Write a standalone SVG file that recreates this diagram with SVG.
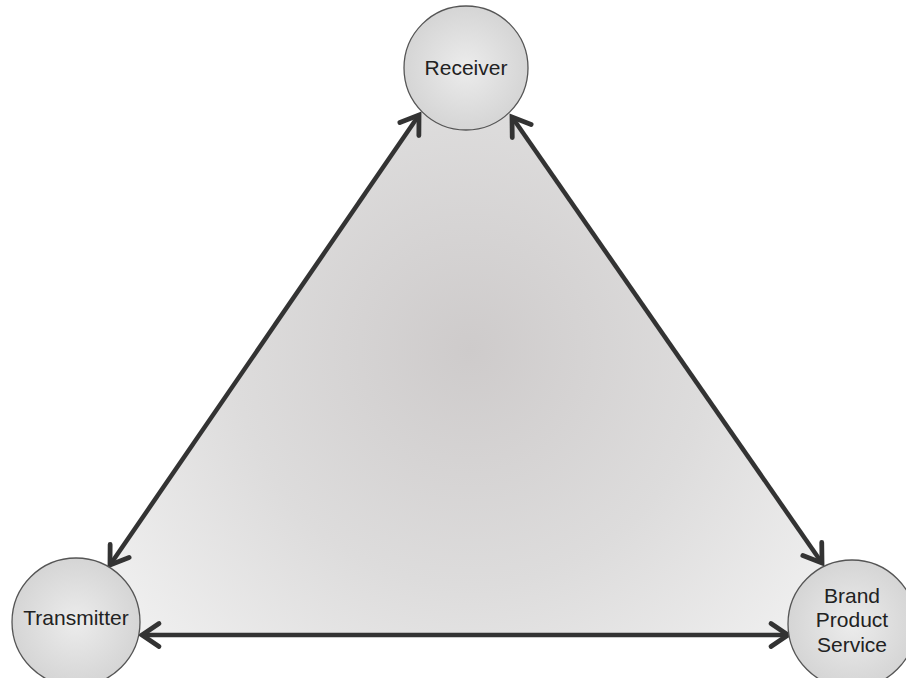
<svg xmlns="http://www.w3.org/2000/svg" width="906" height="678" viewBox="0 0 906 678">
<defs>
<style>
.node circle{fill:url(#cg);stroke:#555;stroke-width:1.3}
.node text{font-family:"Liberation Sans",Arial,sans-serif;font-size:21px;fill:#222;text-anchor:middle}
.conn{stroke:#333;stroke-width:4.5;fill:none;marker-start:url(#ah);marker-end:url(#ah)}
</style>
<radialGradient id="tg" gradientUnits="userSpaceOnUse" cx="470" cy="350" r="470">
<stop offset="0" stop-color="#cecbcb"/>
<stop offset="0.5" stop-color="#dddcdc"/>
<stop offset="1" stop-color="#f3f3f3"/>
</radialGradient>
<radialGradient id="cg" cx="0.5" cy="0.5" r="0.5">
<stop offset="0" stop-color="#ececec"/>
<stop offset="1" stop-color="#d5d5d5"/>
</radialGradient>
<marker id="ah" markerUnits="userSpaceOnUse" orient="auto-start-reverse" refX="0" refY="0" markerWidth="30" markerHeight="30" overflow="visible">
<path d="M -17 -11.5 L 0 0 L -17 11.5" fill="none" stroke="#333" stroke-width="4.8" stroke-linecap="round" stroke-linejoin="miter"/>
</marker>
</defs>
<rect width="906" height="678" fill="#ffffff"/>
<polygon id="field" points="465,49 61,636 873,636" fill="url(#tg)"/>
<g id="connectors">
<path class="conn" d="M 419 115 L 110 565"/>
<path class="conn" d="M 512 117 L 822 563"/>
<path class="conn" d="M 142 635 L 788 635"/>
</g>
<g id="receiver" class="node">
<circle cx="466" cy="68" r="62"/>
<text x="466" y="75">Receiver</text>
</g>
<g id="transmitter" class="node">
<circle cx="76" cy="622" r="64"/>
<text x="76" y="625">Transmitter</text>
</g>
<g id="brand" class="node">
<circle cx="852" cy="624" r="64"/>
<text x="852" y="603">Brand</text>
<text x="852" y="627">Product</text>
<text x="852" y="652">Service</text>
</g>
</svg>
